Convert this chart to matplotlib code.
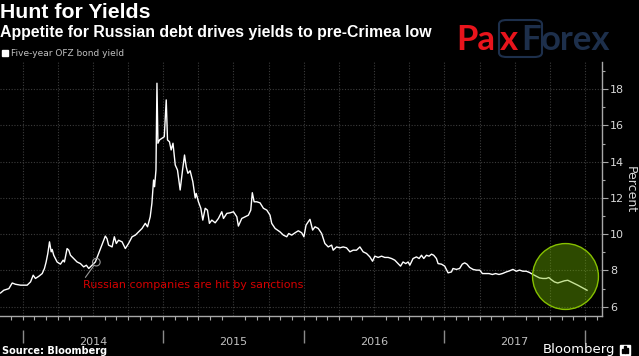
import matplotlib
matplotlib.use("Agg")
import matplotlib.pyplot as plt
from matplotlib.patches import Rectangle, FancyBboxPatch
import numpy as np

# ---------------- data (decimal year, percent) ----------------
years_t = [
    2013.844, 2013.867, 2013.903, 2013.927, 2013.950, 2013.986, 2014.033, 2014.057, 2014.076, 2014.092,
    2014.116, 2014.140, 2014.156, 2014.168, 2014.180, 2014.192, 2014.204, 2014.211, 2014.222, 2014.246,
    2014.270, 2014.289, 2014.298, 2014.317, 2014.329, 2014.341, 2014.364, 2014.388, 2014.412, 2014.435,
    2014.454, 2014.471, 2014.495, 2014.518, 2014.534, 2014.554, 2014.573, 2014.589, 2014.601, 2014.612,
    2014.637, 2014.653, 2014.667, 2014.683, 2014.708, 2014.731, 2014.754, 2014.779, 2014.802, 2014.825,
    2014.850, 2014.873, 2014.889, 2014.908, 2014.920, 2014.932, 2014.939, 2014.949, 2014.956, 2014.963,
    2014.974, 2014.991, 2015.008, 2015.022, 2015.031, 2015.045, 2015.057, 2015.070, 2015.086, 2015.102,
    2015.121, 2015.138, 2015.152, 2015.164, 2015.176, 2015.192, 2015.211, 2015.228, 2015.235, 2015.251,
    2015.268, 2015.282, 2015.299, 2015.315, 2015.329, 2015.346, 2015.370, 2015.393, 2015.417, 2015.429,
    2015.453, 2015.476, 2015.500, 2015.524, 2015.535, 2015.559, 2015.583, 2015.606, 2015.623, 2015.634,
    2015.647, 2015.666, 2015.689, 2015.713, 2015.737, 2015.760, 2015.772, 2015.796, 2015.812, 2015.831,
    2015.855, 2015.879, 2015.893, 2015.914, 2015.938, 2015.961, 2015.985, 2016.001, 2016.016, 2016.032,
    2016.044, 2016.051, 2016.063, 2016.080, 2016.103, 2016.127, 2016.150, 2016.174, 2016.198, 2016.209,
    2016.233, 2016.257, 2016.280, 2016.304, 2016.328, 2016.351, 2016.375, 2016.399, 2016.422, 2016.446,
    2016.470, 2016.489, 2016.505, 2016.529, 2016.553, 2016.576, 2016.600, 2016.624, 2016.647, 2016.671,
    2016.688, 2016.706, 2016.725, 2016.742, 2016.754, 2016.777, 2016.801, 2016.820, 2016.837, 2016.853,
    2016.872, 2016.891, 2016.908, 2016.924, 2016.943, 2016.955, 2016.979, 2017.002, 2017.026, 2017.050,
    2017.061, 2017.085, 2017.108, 2017.127, 2017.144, 2017.160, 2017.179, 2017.203, 2017.227, 2017.251,
    2017.270, 2017.293, 2017.317, 2017.341, 2017.364, 2017.388, 2017.412, 2017.440, 2017.463, 2017.487,
    2017.511, 2017.534, 2017.558, 2017.582, 2017.605, 2017.629, 2017.653, 2017.676, 2017.700, 2017.724,
    2017.742, 2017.759, 2017.782, 2017.806, 2017.830, 2017.853, 2017.877, 2017.901, 2017.925, 2017.948,
    2017.972, 2017.995, 2018.014,
]
yield_pct = [
    6.76, 6.91, 7.00, 7.31, 7.24, 7.19, 7.19, 7.37, 7.74, 7.56,
    7.68, 7.83, 8.11, 8.47, 8.94, 9.58, 9.03, 9.16, 8.84, 8.47,
    8.35, 8.57, 8.47, 9.21, 9.12, 8.84, 8.66, 8.47, 8.38, 8.20,
    8.29, 8.11, 8.29, 8.47, 8.79, 9.20, 9.58, 9.90, 9.75, 9.40,
    9.30, 9.86, 9.49, 9.67, 9.58, 9.21, 9.49, 9.86, 9.95, 10.13,
    10.32, 10.60, 10.41, 10.96, 11.70, 12.99, 12.62, 13.54, 18.33, 15.02,
    15.20, 15.29, 15.38, 17.41, 15.20, 15.10, 14.65, 15.02, 13.82, 13.54,
    12.44, 13.54, 14.37, 13.72, 13.36, 13.50, 12.90, 12.00, 12.25, 11.79,
    11.43, 10.78, 11.43, 11.33, 10.60, 10.78, 10.63, 10.87, 11.24, 10.87,
    11.15, 11.18, 11.24, 10.96, 10.45, 10.87, 10.96, 11.05, 11.33, 12.29,
    11.79, 11.79, 11.73, 11.43, 11.33, 11.05, 10.60, 10.32, 10.23, 10.13,
    9.95, 9.86, 10.04, 9.95, 10.08, 10.19, 10.08, 9.86, 10.50, 10.69,
    10.82, 10.60, 10.23, 10.41, 10.32, 10.04, 9.49, 9.30, 9.40, 9.12,
    9.30, 9.25, 9.30, 9.25, 9.03, 9.12, 9.12, 9.30, 9.03, 8.94,
    8.75, 8.51, 8.79, 8.72, 8.79, 8.72, 8.72, 8.66, 8.57, 8.38,
    8.24, 8.47, 8.38, 8.47, 8.29, 8.66, 8.75, 8.66, 8.84, 8.66,
    8.84, 8.79, 8.90, 8.84, 8.66, 8.38, 8.35, 8.24, 7.87, 7.92,
    8.11, 8.06, 8.11, 8.35, 8.42, 8.35, 8.17, 8.06, 8.02, 8.02,
    7.83, 7.83, 7.83, 7.78, 7.83, 7.78, 7.83, 7.92, 7.98, 8.06,
    7.96, 8.02, 7.96, 7.96, 7.89, 7.78, 7.68, 7.59, 7.56, 7.56,
    7.61, 7.50, 7.37, 7.31, 7.37, 7.43, 7.46, 7.37, 7.28, 7.19,
    7.09, 7.00, 6.91,
]
year_labels = ["2014", "2015", "2016", "2017"]
year_starts = [2014, 2015, 2016, 2017, 2018]
y_ticks = [6, 8, 10, 12, 14, 16, 18]

title = "Hunt for Yields"
subtitle = "Appetite for Russian debt drives yields to pre-Crimea low"
legend_label = "Five-year OFZ bond yield"
annot_text = "Russian companies are hit by sanctions"
annot_point = (2014.525, 8.46)
annot_text_pos = (2014.433, 7.19)
highlight_center = (2017.857, 7.67)

# ---------------- figure ----------------
plt.rcParams['font.family'] = ['DejaVu Sans']
fig = plt.figure(figsize=(6.39, 3.56), dpi=100, facecolor='black')
ax = fig.add_axes([0.0, 0.1124, 0.942, 0.7134])
ax.set_facecolor('black')

xmin, xmax = 2013.84, 2018.12
ax.set_xlim(xmin, xmax)
ax.set_ylim(5.49, 19.5)

# grid
grid_col = '#3c3c3c'
for q in np.arange(2014.0, 2018.01, 0.25):
    ax.axvline(q, color=grid_col, lw=0.8, ls=(0, (1, 1.5)), zorder=0)
ax.set_yticks(y_ticks)
ax.grid(axis='y', color=grid_col, lw=0.8, ls=(0, (1, 1.5)), zorder=0)
ax.set_yticks(np.arange(7, 20, 2), minor=True)

# series
ax.plot(years_t, yield_pct, color='white', lw=1.0, zorder=3, solid_joinstyle='round')

# spines
for s in ['top', 'left']:
    ax.spines[s].set_visible(False)
ax.spines['bottom'].set_color('#a8a8a8')
ax.spines['right'].set_color('#a8a8a8')
ax.spines['bottom'].set_linewidth(1.0)
ax.spines['right'].set_linewidth(1.0)

# y axis right
ax.yaxis.tick_right()
ax.tick_params(axis='y', which='major', length=4, width=0.8, color='#a8a8a8',
               labelcolor='#d8d8d8', labelsize=8, pad=2)
ax.tick_params(axis='y', which='minor', length=2, width=0.8, color='#a8a8a8')
fig.text(630 / 639, 1 - 190 / 356, 'Percent', rotation=270, ha='center', va='center',
         color='#d8d8d8', fontsize=9)

# x axis
mid_years = [int(y) + 0.5 for y in year_labels]
ax.set_xticks(mid_years)
ax.set_xticklabels(year_labels)
ax.set_xticks([y + m / 12 for y in range(2013, 2019) for m in range(12)
               if xmin <= y + m / 12 <= xmax], minor=True)
ax.tick_params(axis='x', which='major', length=0, pad=15, labelcolor='#c0c0c0', labelsize=8)
ax.tick_params(axis='x', which='minor', length=3, width=0.8, color='#a8a8a8')
ax.vlines(year_starts, -0.055, -0.106, transform=ax.get_xaxis_transform(),
          clip_on=False, color='#8a8a8a', lw=1.0)

# annotation
ax.annotate(annot_text, xy=annot_point, xytext=annot_text_pos,
            color='#d40000', fontsize=8.0, ha='left', va='center',
            arrowprops=dict(arrowstyle='-', color='#9a9a9a', lw=0.8,
                            shrinkA=0, shrinkB=3, relpos=(0, 1)), zorder=5)
ax.scatter([annot_point[0]], [annot_point[1]], s=30, facecolors='none',
           edgecolors='#9a9a9a', linewidths=0.8, zorder=5)

# highlight circle
ax.scatter([highlight_center[0]], [highlight_center[1]], s=2250, marker='o',
           facecolors=(0.45, 0.73, 0.0, 0.4), edgecolors='#86c000', linewidths=1.0,
           zorder=6)

# titles
fig.text(0.0, 1 - 12 / 356, title, color='white', fontsize=15.3, fontweight='bold',
         family='Liberation Sans', ha='left', va='center')
fig.text(0.0, 1 - 32 / 356, subtitle, color='white', fontsize=11.4, fontweight='bold',
         family='Liberation Sans', ha='left', va='center')
fig.patches.append(Rectangle((2 / 639, 1 - 56 / 356), 6 / 639, 6 / 356,
                             transform=fig.transFigure, color='white'))
fig.text(11 / 639, 1 - 53 / 356, legend_label, color='#c0c0c0', fontsize=6.5,
         ha='left', va='center')

# footer
fig.text(2 / 639, 1 - 351 / 356, 'Source: Bloomberg', color='white', fontsize=7,
         fontweight='bold', ha='left', va='center')
fig.text(615 / 639, 1 - 350 / 356, 'Bloomberg', color='white', fontsize=9.5,
         ha='right', va='center')
fig.patches.append(Rectangle((620 / 639, 1 - 355 / 356), 10 / 639, 10 / 356,
                             transform=fig.transFigure, color='white'))
for i, h in enumerate([4, 7, 5]):
    fig.patches.append(Rectangle(((622 + 2.3 * i) / 639, 1 - 353 / 356), 1.4 / 639, h / 356,
                                 transform=fig.transFigure, color='black'))

# PaxForex logo
red = '#e8141c'
navy = '#1d2f4b'
fig.patches.append(FancyBboxPatch((499 / 639, 1 - 57 / 356), 43 / 639, 37 / 356,
                                  boxstyle='round,pad=0,rounding_size=0.012',
                                  transform=fig.transFigure, facecolor='none',
                                  edgecolor=navy, lw=1.5))
fig.text(456 / 639, 1 - 40 / 356, 'Pa', color=red, fontsize=25, family='Lato',
         fontweight='bold', ha='left', va='center')
fig.text(500 / 639, 1 - 40 / 356, 'x', color=red, fontsize=25, family='Lato',
         fontweight='bold', ha='left', va='center')
fig.text(521 / 639, 1 - 40 / 356, 'F', color=navy, fontsize=25, family='Lato',
         fontweight='bold', ha='left', va='center')
fig.text(541 / 639, 1 - 40 / 356, 'orex', color=navy, fontsize=25, family='Lato',
         fontweight='bold', ha='left', va='center')

fig.savefig('out.png', dpi=100, facecolor='black')
